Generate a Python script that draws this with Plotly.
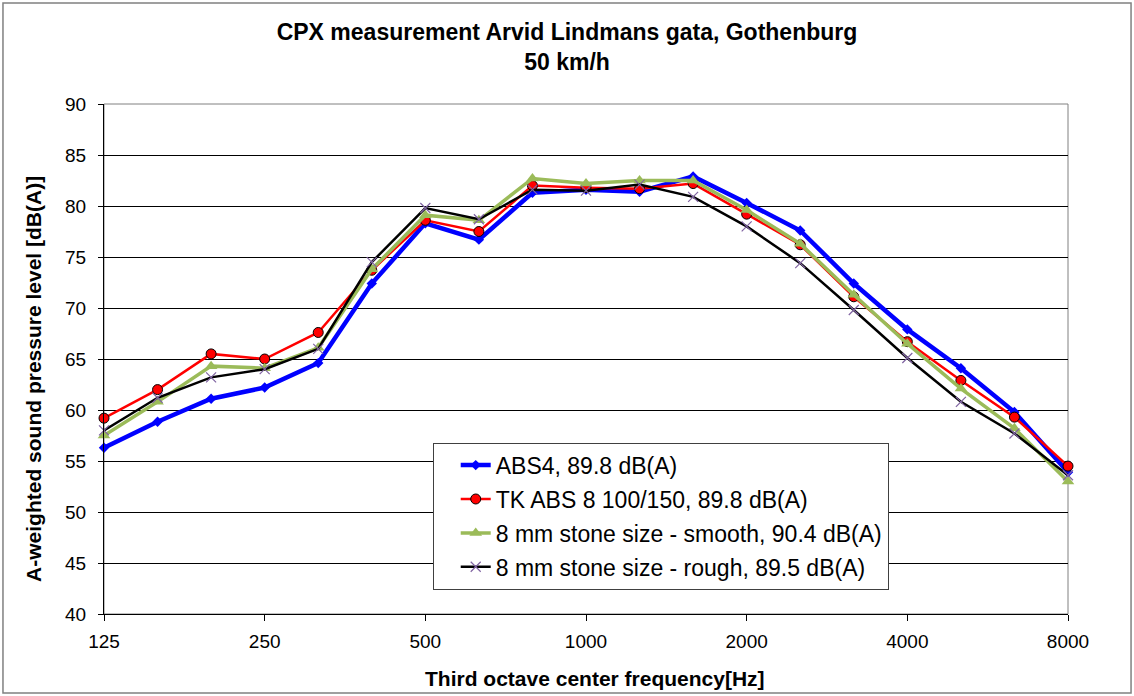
import plotly.graph_objects as go

# Third octave bands and measured levels, dB(A)
freqs = ['125', '160', '200', '250', '315', '400', '500', '630', '800', '1000',
         '1250', '1600', '2000', '2500', '3150', '4000', '5000', '6300', '8000']
tick_freqs = ['125', '250', '500', '1000', '2000', '4000', '8000']

abs4 = [56.3, 58.85, 61.1, 62.2, 64.6, 72.4, 78.3, 76.7, 81.3, 81.6,
        81.4, 82.9, 80.3, 77.6, 72.4, 67.9, 64.1, 59.8, 53.9]
tk_abs8 = [59.2, 62.0, 65.5, 65.0, 67.6, 73.7, 78.6, 77.5, 82.0, 81.8,
           81.7, 82.2, 79.2, 76.2, 71.1, 66.7, 62.9, 59.3, 54.5]
stone_smooth = [57.5, 60.8, 64.3, 64.1, 66.1, 73.8, 79.1, 78.6, 82.7, 82.2,
                82.5, 82.5, 79.6, 76.3, 71.3, 66.5, 62.1, 58.2, 53.0]
stone_rough = [58.0, 61.2, 63.2, 64.0, 66.0, 74.5, 79.8, 78.7, 81.6, 81.5,
               82.1, 80.9, 78.0, 74.4, 69.8, 65.1, 60.8, 57.7, 53.6]

FONT = 'Liberation Sans, Arial'

fig = go.Figure()

fig.add_trace(go.Scatter(
    x=freqs, y=abs4, mode='lines+markers', name='ABS4, 89.8 dB(A)',
    line=dict(color='#0000FF', width=4.5),
    marker=dict(symbol='diamond', size=8, color='#0000FF'),
    legendgroup='a', cliponaxis=False
))
fig.add_trace(go.Scatter(
    x=freqs, y=tk_abs8, mode='lines+markers', name='TK ABS 8 100/150, 89.8 dB(A)',
    line=dict(color='#FF0000', width=2.5),
    marker=dict(symbol='circle', size=10, color='#FF0000', line=dict(color='black', width=1)),
    legendgroup='b', cliponaxis=False
))
fig.add_trace(go.Scatter(
    x=freqs, y=stone_smooth, mode='lines+markers', name='8 mm stone size - smooth, 90.4 dB(A)',
    line=dict(color='#9BBB59', width=3.5),
    marker=dict(symbol='triangle-up', size=11, color='#9BBB59'),
    legendgroup='c', cliponaxis=False
))
fig.add_trace(go.Scatter(
    x=freqs, y=stone_rough, mode='lines+markers', name='8 mm stone size - rough, 89.5 dB(A)',
    line=dict(color='black', width=2.5),
    marker=dict(symbol='x-thin', size=10, color='#8064A2', line=dict(color='#8064A2', width=1.2)),
    legendgroup='d', cliponaxis=False
))

# plot-area border (gray) and outer chart border
fig.add_shape(type='rect', xref='paper', yref='paper', x0=0, y0=0, x1=1, y1=1,
              line=dict(color='#808080', width=1), layer='below')
fig.add_shape(type='rect', xref='paper', yref='paper', x0=-0.1048, y0=-0.1549,
              x1=1.0654, y1=1.198, line=dict(color='#808080', width=1.5), layer='below')

# axis titles as annotations so they can sit where the original has them
fig.add_annotation(text='<b>Third octave center frequency[Hz]</b>', xref='paper', yref='paper',
                   x=0.509, y=-0.1255, xanchor='center', yanchor='middle', showarrow=False,
                   font=dict(size=21, family=FONT, color='black'))
fig.add_annotation(text='<b>A-weighted sound pressure level [dB(A)]</b>', xref='paper', yref='paper',
                   x=-0.0726, y=0.461, xanchor='center', yanchor='middle', showarrow=False,
                   textangle=-90, font=dict(size=21, family=FONT, color='black'))

fig.update_layout(
    width=1134, height=696,
    title=dict(
        text='<b>CPX measurement Arvid Lindmans gata, Gothenburg<br>50 km/h</b>',
        font=dict(family=FONT, size=23, color='black'),
        x=0.5, xanchor='center', y=0.943, yanchor='top'
    ),
    font=dict(family=FONT, color='black'),
    xaxis=dict(
        type='category', categoryorder='array', categoryarray=freqs,
        range=[0, 18], tickvals=tick_freqs, ticktext=tick_freqs,
        showgrid=False, showline=True, linecolor='black', linewidth=1,
        ticks='outside', ticklen=6, tickcolor='black', ticklabelstandoff=4,
        tickfont=dict(size=19),
        zeroline=False
    ),
    yaxis=dict(
        range=[40, 90], dtick=5, tick0=40,
        showgrid=True, gridcolor='black', gridwidth=1,
        showline=True, linecolor='black', linewidth=1,
        ticks='outside', ticklen=5, tickcolor='black', ticklabelstandoff=8,
        tickfont=dict(size=19),
        zeroline=False
    ),
    plot_bgcolor='white', paper_bgcolor='white',
    margin=dict(l=104, r=66, t=104, b=82),
    legend=dict(
        x=0.341, y=0.336, xanchor='left', yanchor='top',
        bgcolor='white', bordercolor='#404040', borderwidth=1,
        font=dict(size=23), traceorder='grouped', tracegroupgap=1,
        itemwidth=30, indentation=22
    ),
    showlegend=True
)

# drop the page's default body margin so the figure sits at the window corner
fig.write_html("out.html", config={'displayModeBar': False},
               post_script="document.body.style.margin='0px';")
